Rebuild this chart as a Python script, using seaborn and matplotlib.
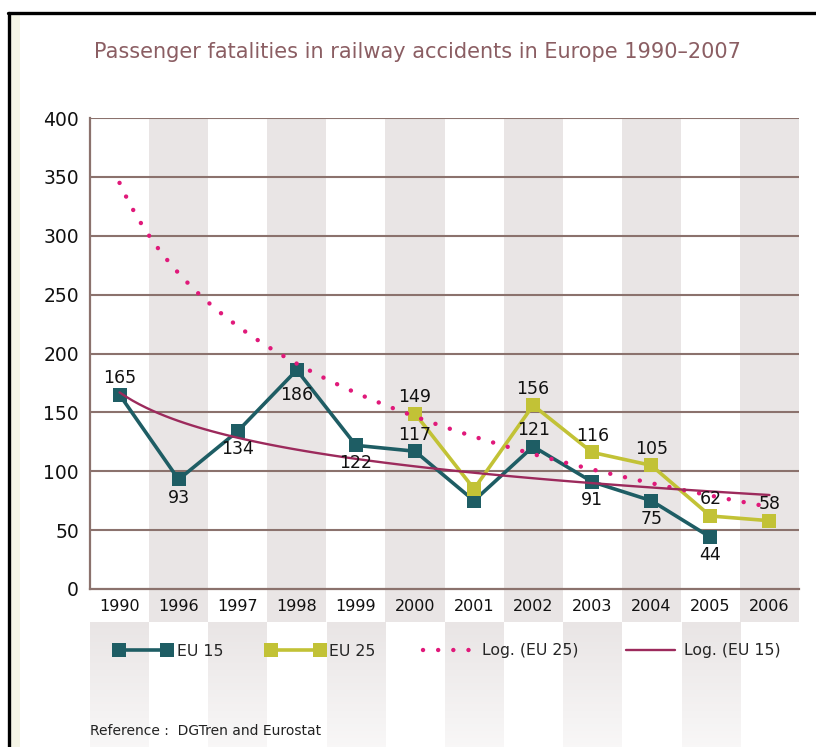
import numpy as np
import pandas as pd
import matplotlib
matplotlib.use('Agg')
import matplotlib.pyplot as plt
from matplotlib.lines import Line2D
from matplotlib.patches import Rectangle
import seaborn as sns

# Chart data
years = ['1990', '1996', '1997', '1998', '1999', '2000',
         '2001', '2002', '2003', '2004', '2005', '2006']
eu15 = [165, 93, 134, 186, 122, 117, 75, 121, 91, 75, 44, np.nan]
eu25 = [np.nan, np.nan, np.nan, np.nan, np.nan, 149, 85, 156, 116, 105, 62, 58]

# which points get a value label, and on which side of the marker
eu15_label_side = {0: 'above', 1: 'below', 2: 'below', 3: 'below', 4: 'below',
                   5: 'above', 7: 'above', 8: 'below', 9: 'below', 10: 'below'}
eu25_label_side = {5: 'above', 7: 'above', 8: 'above', 9: 'above',
                   10: 'above', 11: 'above'}

df = pd.DataFrame({'pos': np.arange(1, len(years) + 1), 'year': years,
                   'eu15': eu15, 'eu25': eu25})

# colours
teal = '#1e5d64'
olive = '#c2c236'
pink = '#e0197a'
maroon = '#9c2a5c'
grid_col = '#8b726d'
stripe = '#e9e5e5'
title_col = '#8b5e63'

W, H = 816, 747
fig = plt.figure(figsize=(W / 100, H / 100), dpi=100)
sns.set_style('white')

ax_l, ax_r, ax_top, ax_bot = 90, 799, 118, 589
ax = fig.add_axes([ax_l / W, (H - ax_bot) / H, (ax_r - ax_l) / W, (ax_bot - ax_top) / H])
ax.set_zorder(2)

# striped background of the plot area
for i in range(len(years)):
    if i % 2 == 1:
        ax.axvspan(i + 0.5, i + 1.5, color=stripe, lw=0, zorder=0)

# the stripes continue under the tick labels and the legend
bg = fig.add_axes([ax_l / W, 0, (ax_r - ax_l) / W, (H - ax_bot) / H])
bg.set_zorder(1)
bg.axis('off')
row_top = H - ax_bot
row_mid = H - 622
for i in range(len(years)):
    if i % 2 == 1:
        bg.add_patch(Rectangle((i + 0.5, row_mid), 1, row_top - row_mid, color=stripe, lw=0))
grey_rgb = np.array(matplotlib.colors.to_rgb(stripe))
img = np.ones((row_mid, len(years), 4))
for i in range(len(years)):
    if i % 2 == 0:
        img[:, i, :3] = grey_rgb
img[:, :, 3] = np.linspace(1.0, 0.3, row_mid)[:, None]
bg.imshow(img, extent=(0.5, len(years) + 0.5, 0, row_mid), aspect='auto',
          interpolation='nearest')
bg.set_xlim(0.5, len(years) + 0.5)
bg.set_ylim(0, row_top)

# data lines
sns.lineplot(data=df, x='pos', y='eu15', ax=ax, color=teal, lw=2.6, marker='s',
             markersize=10.5, markeredgewidth=0, zorder=3)
sns.lineplot(data=df, x='pos', y='eu25', ax=ax, color=olive, lw=2.6, marker='s',
             markersize=10.5, markeredgewidth=0, zorder=3)

# logarithmic trend lines over the full year range
ax.set_xlim(1, len(years))
sns.regplot(data=df, x='pos', y='eu25', ax=ax, logx=True, truncate=False,
            scatter=False, ci=None, color=pink,
            line_kws={'lw': 3.2, 'linestyle': (0, (0.01, 3.4)),
                      'dash_capstyle': 'round', 'zorder': 4})
sns.regplot(data=df, x='pos', y='eu15', ax=ax, logx=True, truncate=False,
            scatter=False, ci=None, color=maroon,
            line_kws={'lw': 1.7, 'zorder': 4})

# value labels
for values, sides in [(eu15, eu15_label_side), (eu25, eu25_label_side)]:
    for i, side in sides.items():
        off = 12 if side == 'above' else -13
        if side == 'below' and values[i] > 180:
            off = -18
        ax.annotate(f'{values[i]:.0f}', (i + 1, values[i]), xytext=(0, off),
                    textcoords='offset points', ha='center', va='center',
                    fontsize=12.5, color='#111111', zorder=5)

# axes styling
ax.set_xlim(0.5, len(years) + 0.5)
ax.set_ylim(0, 400)
ax.set_yticks(range(0, 401, 50))
ax.set_xticks(df['pos'])
ax.set_xticklabels(years)
ax.set_xticks(np.arange(1.5, len(years) + 1), minor=True)
ax.set_xlabel('')
ax.set_ylabel('')
ax.patch.set_alpha(0)
for y in range(50, 401, 50):
    ax.axhline(y, color=grid_col, lw=1.5, zorder=1)
for side in ['top', 'right']:
    ax.spines[side].set_visible(False)
for side in ['left', 'bottom']:
    ax.spines[side].set_color(grid_col)
    ax.spines[side].set_linewidth(1.6)
ax.tick_params(axis='y', length=0, pad=8, labelsize=13.5, labelcolor='#111111')
ax.tick_params(axis='x', which='major', length=0, pad=7, labelsize=11.5,
               labelcolor='#111111')
ax.tick_params(axis='x', which='minor', direction='in', length=7, width=1.3,
               color=grid_col)

# legend below the plot
handles = [
    Line2D([], [], color=teal, lw=2.6, marker='s', markersize=10.5, markeredgewidth=0),
    Line2D([], [], color=olive, lw=2.6, marker='s', markersize=10.5, markeredgewidth=0),
    Line2D([], [], color=pink, lw=3.2, linestyle=(0, (0.01, 3.4)), dash_capstyle='round'),
    Line2D([], [], color=maroon, lw=1.7),
]
fig.legend(handles, ['EU 15', 'EU 25', 'Log. (EU 25)', 'Log. (EU 15)'], ncol=4,
           loc='center left', bbox_to_anchor=(114 / W, 1 - 651 / H), frameon=False,
           numpoints=2, handlelength=3.7, handletextpad=0.3, columnspacing=2.75,
           fontsize=11.3, borderpad=0, borderaxespad=0)

# title, source note and frame
fig.text(0.511, 1 - 52 / H, 'Passenger fatalities in railway accidents in Europe 1990\u20132007',
         ha='center', va='center', fontsize=15, color=title_col)
fig.text(ax_l / W, 1 - 731 / H, 'Reference :  DGTren and Eurostat', ha='left', va='center',
         fontsize=10, color='#222222')
fig.patches.append(Rectangle((10 / W, 0), 10 / W, 1 - 14 / H, transform=fig.transFigure,
                             color='#f5f5e6', lw=0, zorder=0))
fig.lines.append(Line2D([8 / W, 1], [1 - 13 / H, 1 - 13 / H], transform=fig.transFigure,
                        color='black', lw=2.4))
fig.lines.append(Line2D([9 / W, 9 / W], [0, 1 - 13 / H], transform=fig.transFigure,
                        color='black', lw=2.4))

fig.savefig('out.png', dpi=100)
